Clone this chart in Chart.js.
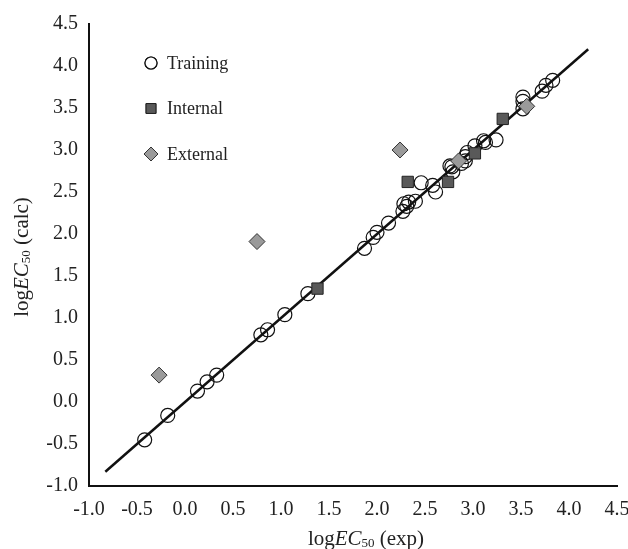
<!DOCTYPE html>
<html>
<head>
<meta charset="utf-8">
<script src="https://cdn.jsdelivr.net/npm/chart.js@4.4.0/dist/chart.umd.min.js"></script>
<style>
  html, body { margin: 0; padding: 0; background: #fff; }
  #wrap { width: 628px; height: 549px; position: relative; }
</style>
</head>
<body>
<div id="wrap"><canvas id="myChart"></canvas></div>
<script>
// tick labels for both axes
const tickValues = [-1.0, -0.5, 0.0, 0.5, 1.0, 1.5, 2.0, 2.5, 3.0, 3.5, 4.0, 4.5];

// training set (exp, calc)
const trainingX = [-0.42, -0.18, 0.13, 0.23, 0.33, 0.79, 0.86, 1.04, 1.28, 1.87, 1.96, 2.00, 2.12, 2.27, 2.28, 2.31, 2.33, 2.40, 2.46, 2.58, 2.61, 2.76, 2.78, 2.79, 2.88, 2.92, 2.92, 2.94, 3.02, 3.11, 3.13, 3.24, 3.52, 3.52, 3.52, 3.72, 3.76, 3.83];
const trainingY = [-0.45, -0.16, 0.13, 0.24, 0.32, 0.80, 0.86, 1.04, 1.29, 1.83, 1.96, 2.02, 2.13, 2.27, 2.36, 2.33, 2.38, 2.39, 2.61, 2.58, 2.50, 2.81, 2.80, 2.74, 2.84, 2.87, 2.92, 2.97, 3.05, 3.11, 3.09, 3.12, 3.63, 3.58, 3.49, 3.70, 3.77, 3.83];

// internal validation set
const internalX = [1.38, 2.32, 2.74, 3.02, 3.31];
const internalY = [1.35, 2.62, 2.62, 2.96, 3.37];

// external validation set
const externalX = [-0.27, 0.75, 2.24, 2.85, 3.56];
const externalY = [0.32, 1.91, 3.00, 2.87, 3.52];

// fitted line ends
const fitX = [-0.83, 4.2];
const fitY = [-0.83, 4.2];

const toPoints = (xs, ys) => xs.map((x, i) => ({ x: x, y: ys[i] }));

const serif = "'Liberation Serif', 'Times New Roman', serif";

// draws "logEC50 (xxx)" with italic EC and subscript 50
function drawLogEC(ctx, suffix, cx, cy) {
  const parts = [
    { t: "log", f: "21px " + serif, dy: 0 },
    { t: "EC", f: "italic 21px " + serif, dy: 0 },
    { t: "50", f: "13px " + serif, dy: 5 },
    { t: " " + suffix, f: "21px " + serif, dy: 0 },
  ];
  let total = 0;
  parts.forEach((p) => {
    ctx.font = p.f;
    p.w = ctx.measureText(p.t).width;
    total += p.w;
  });
  let x = cx - total / 2;
  ctx.textAlign = "left";
  ctx.textBaseline = "middle";
  ctx.fillStyle = "#222";
  parts.forEach((p) => {
    ctx.font = p.f;
    ctx.fillText(p.t, x, cy + p.dy);
    x += p.w;
  });
}

// axis titles and the legend box in the top left corner
const extrasPlugin = {
  id: "extras",
  afterDraw(chart) {
    const ctx = chart.ctx;
    ctx.save();
    drawLogEC(ctx, "(exp)", 366, 539);
    ctx.save();
    ctx.translate(22, 257);
    ctx.rotate(-Math.PI / 2);
    drawLogEC(ctx, "(calc)", 0, 0);
    ctx.restore();

    const items = [1, 2, 3]; // dataset indexes shown in legend
    items.forEach((di, k) => {
      const ds = chart.data.datasets[di];
      const y = 63 + k * 45.5;
      ctx.fillStyle = ds.legendFill;
      ctx.strokeStyle = ds.borderColor;
      ctx.lineWidth = ds.borderWidth;
      ctx.beginPath();
      Chart.helpers.drawPoint(ctx, {
        pointStyle: ds.pointStyle,
        radius: ds.pointRadius - 1,
        borderWidth: ds.borderWidth,
      }, 151, y);
      ctx.fill();
      ctx.stroke();
      ctx.font = "18px " + serif;
      ctx.fillStyle = "#222";
      ctx.textAlign = "left";
      ctx.textBaseline = "middle";
      ctx.fillText(ds.label, 167, y + 1);
    });
    ctx.restore();
  },
};

const axisCommon = {
  type: "linear",
  min: -1,
  max: 4.5,
  grid: { display: false, drawTicks: false },
  border: { display: true, color: "#111", width: 2 },
  ticks: {
    stepSize: 0.5,
    color: "#222",
    font: { family: serif, size: 20 },
    callback: (v) => (tickValues.includes(v) ? v.toFixed(1) : ""),
  },
};

const config = {
  type: "scatter",
  data: {
    datasets: [
      {
        label: "Fit",
        type: "line",
        data: toPoints(fitX, fitY),
        borderColor: "#111",
        borderWidth: 2.5,
        pointRadius: 0,
        fill: false,
        order: 3,
      },
      {
        label: "Training",
        data: toPoints(trainingX, trainingY),
        pointStyle: "circle",
        pointRadius: 7,
        backgroundColor: "rgba(255,255,255,0)",
        legendFill: "#fff",
        borderColor: "#111",
        borderWidth: 1.2,
        order: 4,
      },
      {
        label: "Internal",
        data: toPoints(internalX, internalY),
        pointStyle: "rect",
        pointRadius: 8,
        backgroundColor: "#595959",
        legendFill: "#595959",
        borderColor: "#222",
        borderWidth: 1,
        order: 2,
      },
      {
        label: "External",
        data: toPoints(externalX, externalY),
        pointStyle: "rectRot",
        pointRadius: 8,
        backgroundColor: "#9a9a9a",
        legendFill: "#9a9a9a",
        borderColor: "#333",
        borderWidth: 1,
        order: 1,
      },
    ],
  },
  options: {
    responsive: true,
    maintainAspectRatio: false,
    animation: false,
    layout: { padding: { top: 24, right: 11, bottom: 0, left: 0 } },
    scales: {
      x: Object.assign({}, axisCommon, {
        ticks: Object.assign({}, axisCommon.ticks, { padding: 12, maxRotation: 0 }),
        afterFit: (scale) => {
          scale.height = 63;
          scale.paddingLeft = 0;
          scale.paddingRight = 0;
        },
      }),
      y: Object.assign({}, axisCommon, {
        ticks: Object.assign({}, axisCommon.ticks, { padding: 11 }),
        afterFit: (scale) => {
          scale.width = 89;
          scale.paddingTop = 0;
          scale.paddingBottom = 0;
        },
      }),
    },
    plugins: {
      legend: { display: false },
      tooltip: { enabled: false },
    },
  },
  plugins: [extrasPlugin],
};

new Chart(document.getElementById("myChart"), config);
</script>
</body>
</html>
